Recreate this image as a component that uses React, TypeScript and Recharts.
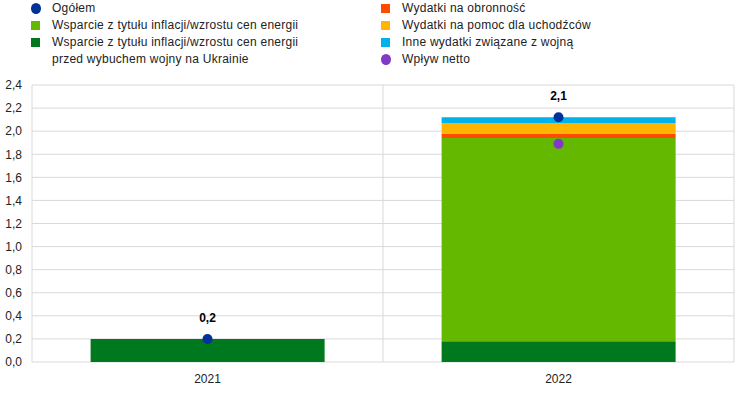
import {
    ComposedChart,
    Bar,
    Scatter,
    XAxis,
    YAxis,
    CartesianGrid,
} from 'recharts';

const years = ['2021', '2022'];
const przedWojna = [0.2, 0.18];
const inflacja = [0, 1.76];
const obronnosc = [0, 0.04];
const uchodzcy = [0, 0.09];
const inneWojna = [0, 0.05];
const ogolem = [0.2, 2.12];
const wplywNetto = [null, 1.89];
const yTicks = [0, 0.2, 0.4, 0.6, 0.8, 1.0, 1.2, 1.4, 1.6, 1.8, 2.0, 2.2, 2.4];

const COLORS = {
    blue: '#003299',
    lightGreen: '#65b800',
    darkGreen: '#00781e',
    red: '#ff4b00',
    yellow: '#ffb400',
    cyan: '#00b1ea',
    purple: '#8139c6',
};

const data = years.map((year, i) => ({
    year,
    przedWojna: przedWojna[i],
    inflacja: inflacja[i],
    obronnosc: obronnosc[i],
    uchodzcy: uchodzcy[i],
    inneWojna: inneWojna[i],
    ogolem: ogolem[i],
    wplywNetto: wplywNetto[i],
}));

const fmt = (v: number) => v.toFixed(1).replace('.', ',');

const FONT = '"Liberation Sans", Arial, sans-serif';

const leftItems = [
    { label: 'Ogółem', color: COLORS.blue, round: true },
    { label: 'Wsparcie z tytułu inflacji/wzrostu cen energii', color: COLORS.lightGreen, round: false },
    { label: 'Wsparcie z tytułu inflacji/wzrostu cen energii\nprzed wybuchem wojny na Ukrainie', color: COLORS.darkGreen, round: false },
];
const rightItems = [
    { label: 'Wydatki na obronność', color: COLORS.red, round: false },
    { label: 'Wydatki na pomoc dla uchodźców', color: COLORS.yellow, round: false },
    { label: 'Inne wydatki związane z wojną', color: COLORS.cyan, round: false },
    { label: 'Wpływ netto', color: COLORS.purple, round: true },
];

const LegendColumn = ({ items, left }: { items: typeof leftItems; left: number }) => (
    <div style={{ position: 'absolute', left, top: 0 }}>
        {items.map((it, i) => (
            <div key={i} style={{ display: 'flex', alignItems: 'flex-start', height: it.label.includes('\n') ? 34 : 17 }}>
                <span style={{
                    display: 'inline-block',
                    flex: 'none',
                    width: it.round ? 10 : 9,
                    height: it.round ? 11 : 9,
                    borderRadius: it.round ? '50%' : 0,
                    background: it.color,
                    marginTop: it.round ? 3 : 4,
                    marginRight: it.round ? 11 : 12,
                }} />
                <span style={{ whiteSpace: 'pre', lineHeight: '17px', fontSize: 12, letterSpacing: 0.25, color: '#222', marginTop: 0 }}>{it.label}</span>
            </div>
        ))}
    </div>
);

const Dot = (props: any) => {
    const { cx, cy, fill } = props;
    if (cx == null || cy == null) return null;
    return <circle cx={cx} cy={cy} r={5} fill={fill} />;
};

const TotalDot = (props: any) => {
    const { cx, cy, fill, payload } = props;
    if (cx == null || cy == null) return null;
    return (
        <g>
            <circle cx={cx} cy={cy} r={5} fill={fill} />
            <text x={cx} y={cy - 17} textAnchor="middle" fontSize={12} fontWeight="bold" fill="#000" fontFamily={FONT}>
                {fmt(payload.ogolem)}
            </text>
        </g>
    );
};

const App = () => {
    return (
        <div style={{ position: 'absolute', left: 0, top: 0, width: 744, height: 393, background: '#fff', fontFamily: FONT }}>
            <LegendColumn items={leftItems} left={31} />
            <LegendColumn items={rightItems} left={381} />
            <ComposedChart
                width={744}
                height={393}
                data={data}
                margin={{ top: 85, right: 10, left: 0, bottom: 1 }}
                barCategoryGap="16.7%"
            >
                <CartesianGrid
                    stroke="#d9d9d9"
                    verticalCoordinatesGenerator={({ offset }: any) => [
                        offset.left,
                        offset.left + offset.width / 2,
                        offset.left + offset.width,
                    ]}
                />
                <XAxis
                    dataKey="year"
                    axisLine={false}
                    tickLine={false}
                    tickMargin={6}
                    tick={{ fontSize: 12, fill: '#222', fontFamily: FONT }}
                />
                <YAxis
                    domain={[0, 2.4]}
                    ticks={yTicks}
                    axisLine={false}
                    tickLine={false}
                    tickMargin={4}
                    width={32}
                    interval={0}
                    tickFormatter={fmt}
                    tick={{ fontSize: 12, fill: '#222', fontFamily: FONT }}
                />
                <Bar dataKey="przedWojna" stackId="a" fill={COLORS.darkGreen} isAnimationActive={false} />
                <Bar dataKey="inflacja" stackId="a" fill={COLORS.lightGreen} isAnimationActive={false} />
                <Bar dataKey="obronnosc" stackId="a" fill={COLORS.red} isAnimationActive={false} />
                <Bar dataKey="uchodzcy" stackId="a" fill={COLORS.yellow} isAnimationActive={false} />
                <Bar dataKey="inneWojna" stackId="a" fill={COLORS.cyan} isAnimationActive={false} />
                <Scatter dataKey="wplywNetto" fill={COLORS.purple} shape={<Dot />} isAnimationActive={false} />
                <Scatter dataKey="ogolem" fill={COLORS.blue} shape={<TotalDot />} isAnimationActive={false} />
            </ComposedChart>
        </div>
    );
};

export default App;
